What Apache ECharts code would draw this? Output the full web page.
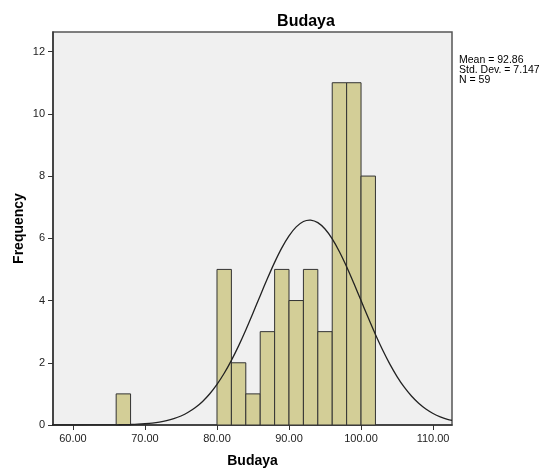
<!DOCTYPE html>
<html>
<head>
<meta charset="utf-8">
<script src="https://cdn.jsdelivr.net/npm/echarts@6/dist/echarts.min.js"></script>
<style>
html,body{margin:0;padding:0;background:#fff;}
#c{width:539px;height:468px;}
</style>
</head>
<body>
<div id="c"></div>
<script>
// Histogram bins (lower edge, width 2) and frequencies
var binLow = [66, 80, 82, 84, 86, 88, 90, 92, 94, 96, 98, 100];
var binWidth = 2;
var counts = [1, 5, 2, 1, 3, 5, 4, 5, 3, 11, 11, 8];

// Normal curve (x, frequency)
var curveX = [57,60,65,66,67,68,69,70,71,72,73,74,75,76,77,78,79,80,81,82,83,84,85,86,87,88,89,90,91,92,92.86,93,94,95,96,97,98,99,100,101,102,103,104,105,106,107,108,109,110,111,112,112.63];
var curveY = [0,0.0002,0.003,0.006,0.010,0.016,0.025,0.040,0.061,0.093,0.139,0.203,0.290,0.408,0.562,0.758,1.005,1.305,1.662,2.077,2.543,3.054,3.598,4.156,4.706,5.227,5.693,6.080,6.368,6.540,6.587,6.586,6.504,6.298,5.981,5.569,5.086,4.554,4.000,3.444,2.908,2.408,1.955,1.557,1.215,0.931,0.698,0.514,0.371,0.263,0.183,0.150];

// Axis ticks
var xTicks = [60, 70, 80, 90, 100, 110];
var yTicks = [0, 2, 4, 6, 8, 10, 12];

var titleText = 'Budaya';
var statLines = ['Mean = 92.86', 'Std. Dev. = 7.147', 'N = 59'];

var chart = echarts.init(document.getElementById('c'), null, {renderer: 'canvas'});
var FONT = '"Liberation Sans", Arial, sans-serif';

var barData = binLow.map(function (lo, i) { return [lo, lo + binWidth, counts[i]]; });
var curveData = curveX.map(function (x, i) { return [x, curveY[i]]; });

chart.setOption({
  animation: false,
  backgroundColor: '#ffffff',
  title: {
    text: titleText,
    left: 301, top: 9, textAlign: 'center',
    textStyle: {fontFamily: FONT, fontSize: 16, fontWeight: 'bold', color: '#000'}
  },
  grid: {
    left: 53, right: 87, top: 32, bottom: 43,
    outerBoundsMode: 'none', containLabel: false,
    show: true, backgroundColor: '#f0f0f0', borderColor: '#555', borderWidth: 1.5
  },
  xAxis: {
    type: 'value', min: 57.23, max: 112.63,
    name: 'Budaya', nameLocation: 'middle', nameGap: 29,
    nameTextStyle: {fontFamily: FONT, fontSize: 14, fontWeight: 'bold', color: '#000'},
    axisLine: {show: true, lineStyle: {color: '#333', width: 1.5}},
    axisTick: {show: true, length: 5, customValues: xTicks, lineStyle: {color: '#333'}},
    axisLabel: {customValues: xTicks, fontFamily: FONT, fontSize: 11, color: '#222', margin: 8,
      formatter: function (v) { return v.toFixed(2); }},
    splitLine: {show: false}
  },
  yAxis: {
    type: 'value', min: 0, max: 12.63,
    name: 'Frequency', nameLocation: 'middle', nameGap: 27, nameRotate: 90,
    nameMoveOverlap: false,
    nameTextStyle: {fontFamily: FONT, fontSize: 14, fontWeight: 'bold', color: '#000'},
    axisLine: {show: true, lineStyle: {color: '#333', width: 1.5}},
    axisTick: {show: true, length: 5, customValues: yTicks, lineStyle: {color: '#333'}},
    axisLabel: {customValues: yTicks, fontFamily: FONT, fontSize: 11, color: '#222', margin: 8},
    splitLine: {show: false}
  },
  graphic: [{
    type: 'text', left: 459, top: 55,
    style: {text: statLines.join('\n'), fontFamily: FONT, fontSize: 10.5, lineHeight: 10, fill: '#000'}
  }],
  series: [{
    type: 'custom',
    data: barData,
    renderItem: function (params, api) {
      var p0 = api.coord([api.value(0), api.value(2)]);
      var p1 = api.coord([api.value(1), 0]);
      return {
        type: 'rect',
        shape: {x: p0[0], y: p0[1], width: p1[0] - p0[0], height: p1[1] - p0[1]},
        style: {fill: '#d3ce97', stroke: '#333', lineWidth: 1}
      };
    },
    encode: {x: [0, 1], y: 2},
    z: 2
  }, {
    type: 'line',
    data: curveData,
    smooth: 0.3,
    showSymbol: false,
    lineStyle: {color: '#222', width: 1.3},
    z: 3
  }]
});
</script>
</body>
</html>
